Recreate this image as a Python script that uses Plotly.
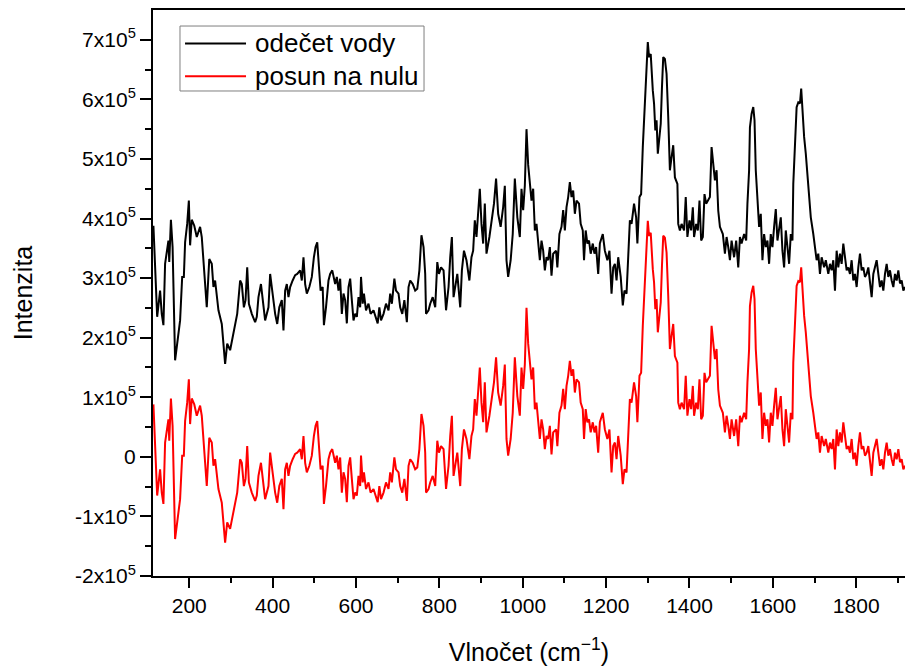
import plotly.graph_objects as go

# Wavenumber grid (cm^-1)
vlnocet = [
    114, 123, 130, 134, 138, 142, 150, 152, 156, 160,
    166, 170, 178, 183, 187, 190, 195, 199, 202, 206,
    212, 218, 226, 230, 238, 242, 248, 254, 258, 262,
    270, 278, 286, 291, 298, 304, 310, 315, 322, 326,
    331, 335, 339, 343, 350, 358, 362, 366, 372, 376,
    382, 390, 394, 399, 406, 411, 416, 422, 426, 430,
    434, 438, 442, 448, 454, 459, 466, 470, 474, 478,
    482, 488, 494, 499, 503, 507, 512, 515, 520, 523,
    528, 534, 538, 543, 550, 554, 558,
    562, 566, 570, 574, 578, 582, 586, 590, 594, 598,
    602, 606, 610, 612, 616, 619, 624, 630, 635, 642,
    647, 652, 656, 660, 666, 672, 678, 682, 686, 690,
    692, 696, 702, 706, 711, 716, 722, 726, 730, 736,
    742, 747, 752, 757, 762, 766, 768, 774, 778, 784,
    790, 795, 799, 804, 810, 816, 822, 826, 830, 834,
    838, 843, 850, 854, 859, 865, 872, 877, 881, 885,
    889, 893, 897, 901, 905, 909, 913, 920, 925, 931,
    936, 941, 947, 953, 957, 961, 965, 971, 976, 981,
    987, 993, 997, 1001, 1005, 1009, 1013,
    1017, 1021, 1025, 1029, 1033, 1037, 1041, 1045, 1049, 1053,
    1057, 1061, 1065, 1069, 1073, 1080, 1083, 1088, 1093, 1097,
    1101, 1105, 1109, 1113, 1117, 1121, 1125, 1129, 1135, 1139,
    1144, 1147, 1151, 1155, 1159, 1163, 1168, 1172, 1176, 1181,
    1185, 1192, 1197, 1203, 1208, 1213, 1217, 1221, 1225, 1229,
    1235, 1240, 1244, 1249, 1253, 1257, 1261, 1267, 1272, 1275,
    1280, 1284, 1288, 1291, 1294, 1297, 1300, 1303, 1307, 1312,
    1315, 1318, 1321, 1324, 1328, 1331, 1334, 1337, 1341, 1345,
    1349, 1353, 1357, 1361, 1365, 1371, 1373, 1377, 1381, 1387,
    1391, 1395, 1400, 1404, 1408, 1411, 1416, 1420, 1424, 1428,
    1432, 1436, 1440, 1445, 1449, 1453, 1457, 1461, 1465, 1469,
    1473, 1480, 1485, 1489, 1493, 1497, 1501, 1507, 1512, 1517,
    1521, 1525, 1531, 1536, 1539, 1543, 1545, 1549, 1553, 1556,
    1559, 1563, 1567, 1571, 1575, 1579, 1583, 1587, 1591, 1595,
    1599, 1603, 1607, 1611, 1615, 1619, 1623, 1627, 1631, 1635,
    1639, 1643, 1647, 1649, 1653, 1657, 1661, 1665, 1668, 1671,
    1675, 1679, 1683, 1687, 1691, 1697, 1701, 1705, 1709, 1713,
    1717, 1723, 1727, 1733, 1737, 1741, 1745, 1749, 1753, 1757,
    1761, 1765, 1769, 1773, 1777, 1781, 1785, 1789, 1793, 1797,
    1801, 1805, 1809, 1813, 1817, 1821, 1825, 1829, 1833, 1837,
    1841, 1845, 1849, 1853, 1857, 1861, 1865, 1869, 1873, 1877,
    1881, 1885, 1889, 1893, 1897, 1901, 1905, 1909, 1913, 1917,
]

# "odečet vody" intensity, in units of 10^3
odecet_vody = [
    388, 235, 279, 240, 221, 324, 363, 327, 398, 352,
    162, 184, 229, 302, 302, 360, 391, 430, 355, 398,
    388, 369, 386, 369, 279, 251, 332, 324, 285, 296,
    246, 223, 156, 190, 179, 201, 218, 240, 296, 290,
    251, 263, 318, 257, 240, 226, 235, 268, 290, 263,
    229, 251, 307, 279, 240, 223, 251, 263, 212, 279,
    290, 268, 285, 296, 305, 307, 313, 296, 335, 290,
    274, 285, 302, 335, 352, 360, 318, 279, 285, 221,
    251, 296, 307, 313, 290, 302, 279,
    299, 240, 274, 263, 224, 285, 299, 263, 229, 240,
    235, 268, 251, 302, 257, 274, 246, 257, 240, 246,
    235, 224, 251, 229, 240, 257, 246, 274, 257, 279,
    299, 279, 274, 251, 240, 263, 226, 285, 296, 290,
    279, 282, 313, 372, 352, 307, 240, 246, 257, 268,
    251, 327, 307, 318, 313, 246, 285, 335, 369, 268,
    285, 307, 251, 313, 346, 330, 296, 335, 346, 397,
    369, 414, 450, 391, 358, 425, 341, 369, 397, 425,
    467, 408, 386, 419, 455, 330, 302, 330, 374, 467,
    402, 369, 450, 414, 455, 550, 490,
    453, 430, 450, 380, 391, 358, 330, 363, 346, 313,
    335, 330, 352, 304, 341, 346, 318, 374, 386, 414,
    380, 419, 436, 461, 436, 447, 408, 430, 425, 391,
    380, 330, 380, 358, 363, 341, 358, 341, 352, 307,
    358, 374, 346, 330, 346, 274, 318, 324, 296, 335,
    302, 254, 279, 274, 352, 397, 391, 425, 402, 358,
    436, 441, 520, 570, 604, 665, 696, 671, 676, 615,
    593, 548, 565, 509, 537, 559, 621, 671, 668, 643,
    570, 481, 503, 523, 469, 458, 391, 380, 391, 380,
    436, 369, 397, 380, 419, 369, 391, 380, 430, 363,
    369, 441, 425, 430, 436, 520, 497, 464, 481, 413,
    386, 374, 341, 369, 352, 330, 363, 335, 363, 318,
    369, 358, 374, 363, 425, 481, 553, 576, 587, 565,
    481, 442, 386, 408, 330, 374, 352, 363, 324, 374,
    352, 386, 416, 363, 386, 402, 346, 318, 380, 352,
    324, 374, 363, 458, 520, 587, 595, 593, 618, 576,
    537, 509, 470, 442, 402, 374, 355, 330, 341, 307,
    335, 318, 330, 307, 324, 313, 330, 279, 346, 318,
    341, 324, 358, 330, 313, 318, 307, 330, 296, 307,
    285, 318, 341, 313, 318, 302, 307, 318, 296, 268,
    307, 318, 330, 307, 285, 296, 279, 307, 324, 302,
    313, 296, 285, 307, 296, 313, 291, 296, 279, 285,
]

# "posun na nulu" intensity, in units of 10^3
posun_na_nulu = [
    88, -65, -21, -60, -79, 24, 63, 27, 98, 52,
    -138, -116, -71, 2, 2, 60, 91, 130, 55, 98,
    88, 69, 86, 69, -21, -49, 32, 24, -15, -4,
    -54, -77, -144, -110, -121, -99, -82, -60, -4, -10,
    -49, -37, 18, -43, -60, -74, -65, -32, -10, -37,
    -71, -49, 7, -21, -60, -77, -49, -37, -88, -21,
    -10, -32, -15, -4, 5, 7, 13, -4, 35, -10,
    -26, -15, 2, 35, 52, 60, 18, -21, -15, -79,
    -49, -4, 7, 13, -10, 2, -21,
    -1, -60, -26, -37, -76, -15, -1, -37, -71, -60,
    -65, -32, -49, 2, -43, -26, -54, -43, -60, -54,
    -65, -76, -49, -71, -60, -43, -54, -26, -43, -21,
    -1, -21, -26, -49, -60, -37, -74, -15, -4, -10,
    -21, -18, 13, 72, 52, 7, -60, -54, -43, -32,
    -49, 27, 7, 18, 13, -54, -15, 35, 69, -32,
    -15, 7, -49, 13, 46, 30, -4, 35, 46, 97,
    69, 114, 150, 91, 58, 125, 41, 69, 97, 125,
    167, 108, 86, 119, 155, 30, 2, 30, 74, 167,
    102, 69, 150, 114, 155, 250, 190,
    153, 130, 150, 80, 91, 58, 30, 63, 46, 13,
    35, 30, 52, 4, 41, 46, 18, 74, 86, 114,
    80, 119, 136, 161, 136, 147, 108, 130, 125, 91,
    80, 30, 80, 58, 63, 41, 58, 41, 52, 7,
    58, 74, 46, 30, 46, -26, 18, 24, -4, 35,
    2, -46, -21, -26, 52, 97, 91, 125, 102, 58,
    136, 141, 220, 270, 304, 365, 396, 371, 376, 315,
    293, 248, 265, 209, 237, 259, 321, 371, 368, 343,
    270, 181, 203, 223, 169, 158, 91, 80, 91, 80,
    136, 69, 97, 80, 119, 69, 91, 80, 130, 63,
    69, 141, 125, 130, 136, 220, 197, 164, 181, 113,
    86, 74, 41, 69, 52, 30, 63, 35, 63, 18,
    69, 58, 74, 63, 125, 181, 253, 276, 287, 265,
    181, 142, 86, 108, 30, 74, 52, 63, 24, 74,
    52, 86, 116, 63, 86, 102, 46, 18, 80, 52,
    24, 74, 63, 158, 220, 287, 295, 293, 318, 276,
    237, 209, 170, 142, 102, 74, 55, 30, 41, 7,
    35, 18, 30, 7, 24, 13, 30, -21, 46, 18,
    41, 24, 58, 30, 13, 18, 7, 30, -4, 7,
    -15, 18, 41, 13, 18, 2, 7, 18, -4, -32,
    7, 18, 30, 7, -15, -4, -21, 7, 24, 2,
    13, -4, -15, 7, -4, 13, -9, -4, -21, -15,
]

series_names = ["odečet vody", "posun na nulu"]
series_colors = ["black", "#ff0000"]

x_tickvals = [200, 400, 600, 800, 1000, 1200, 1400, 1600, 1800]
x_ticktext = ["200", "400", "600", "800", "1000", "1200", "1400", "1600", "1800"]
x_minor = [300, 500, 700, 900, 1100, 1300, 1500, 1700, 1900]

y_tickvals = [-200, -100, 0, 100, 200, 300, 400, 500, 600, 700]
y_ticktext = ["-2x10<sup>5</sup>", "-1x10<sup>5</sup>", "0", "1x10<sup>5</sup>",
              "2x10<sup>5</sup>", "3x10<sup>5</sup>", "4x10<sup>5</sup>",
              "5x10<sup>5</sup>", "6x10<sup>5</sup>", "7x10<sup>5</sup>"]
y_minor = [-150, -50, 50, 150, 250, 350, 450, 550, 650]

FONT = "Liberation Sans, Arial, sans-serif"

fig = go.Figure()
fig.add_trace(go.Scatter(x=vlnocet, y=odecet_vody, mode="lines", name=series_names[0],
                         line=dict(color=series_colors[0], width=2), showlegend=False))
fig.add_trace(go.Scatter(x=vlnocet, y=posun_na_nulu, mode="lines", name=series_names[1],
                         line=dict(color=series_colors[1], width=2), showlegend=False))

# Legend drawn as a framed box (paper coordinates) to match the compact original
leg_x0, leg_x1, leg_y0, leg_y1 = 0.0359, 0.3604, 0.8569, 0.9717
line_x0, line_x1, text_x = 0.0426, 0.1237, 0.1330
row_y = [0.9410, 0.8830]

shapes = [dict(type="rect", xref="paper", yref="paper",
               x0=leg_x0, x1=leg_x1, y0=leg_y0, y1=leg_y1,
               line=dict(color="#7f7f7f", width=1), fillcolor="white", layer="above")]
annotations = []
for name, col, yy in zip(series_names, series_colors, row_y):
    shapes.append(dict(type="line", xref="paper", yref="paper",
                       x0=line_x0, x1=line_x1, y0=yy, y1=yy,
                       line=dict(color=col, width=2), layer="above"))
    annotations.append(dict(text=name, xref="paper", yref="paper", x=text_x, y=yy,
                            xanchor="left", yanchor="middle", showarrow=False,
                            font=dict(size=26, family=FONT, color="black")))

fig.update_layout(
    width=905, height=666,
    margin=dict(l=153, r=0, t=10, b=90),
    paper_bgcolor="white", plot_bgcolor="white",
    font=dict(family=FONT, color="black", size=21),
    showlegend=False,
    shapes=shapes,
    annotations=annotations,
    xaxis=dict(
        range=[113, 1917], showgrid=False, zeroline=False,
        showline=True, linecolor="black", linewidth=2, mirror=True,
        ticks="outside", ticklen=10, tickwidth=2, tickcolor="black",
        tickmode="array", tickvals=x_tickvals, ticktext=x_ticktext,
        tickfont=dict(size=21, family=FONT),
        minor=dict(tickmode="array", tickvals=x_minor, ticks="outside",
                   ticklen=5, tickwidth=2, tickcolor="black", showgrid=False),
        title=dict(text="Vlnočet (cm<sup>−1</sup>)", font=dict(size=25, family=FONT),
                   standoff=30),
    ),
    yaxis=dict(
        range=[-200, 750], showgrid=False, zeroline=False,
        showline=True, linecolor="black", linewidth=2,
        ticks="outside", ticklen=11, tickwidth=2, tickcolor="black",
        tickmode="array", tickvals=y_tickvals, ticktext=y_ticktext,
        tickfont=dict(size=21, family=FONT),
        minor=dict(tickmode="array", tickvals=y_minor, ticks="outside",
                   ticklen=6, tickwidth=2, tickcolor="black", showgrid=False),
        title=dict(text="Intenzita", font=dict(size=25, family=FONT), standoff=35),
    ),
)

fig.write_html("out.html")
